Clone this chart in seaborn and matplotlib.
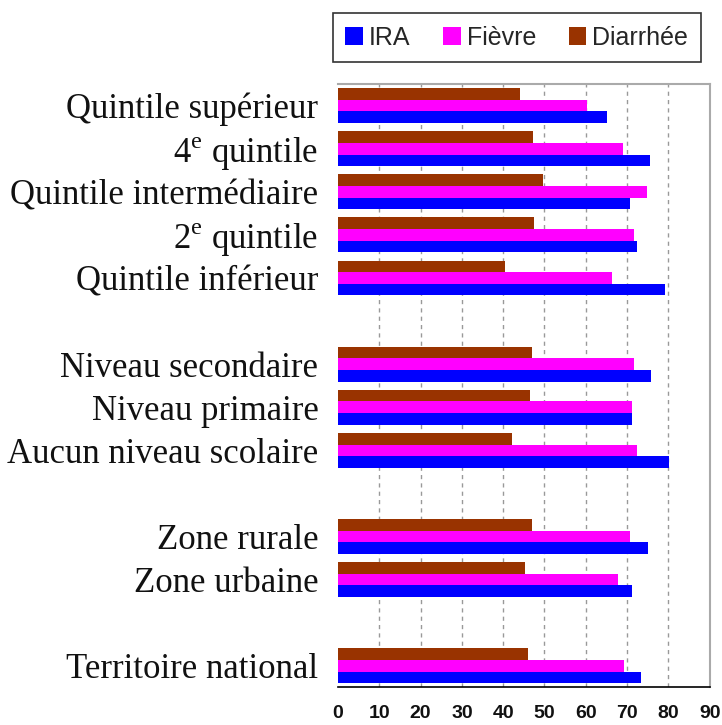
import matplotlib
matplotlib.use("Agg")
import matplotlib.pyplot as plt
import seaborn as sns
import pandas as pd
from matplotlib.patches import Patch

# ---- data ----
categories = ["Quintile supérieur", "4$^{\\mathrm{e}}$ quintile", "Quintile intermédiaire",
              "2$^{\\mathrm{e}}$ quintile", "Quintile inférieur", " ",
              "Niveau secondaire", "Niveau primaire", "Aucun niveau scolaire", "  ",
              "Zone rurale", "Zone urbaine", "   ",
              "Territoire national"]
data_categories = ["Quintile supérieur", "4$^{\\mathrm{e}}$ quintile", "Quintile intermédiaire",
                   "2$^{\\mathrm{e}}$ quintile", "Quintile inférieur",
                   "Niveau secondaire", "Niveau primaire", "Aucun niveau scolaire",
                   "Zone rurale", "Zone urbaine", "Territoire national"]
ira = [65.1, 75.5, 70.8, 72.5, 79.2, 75.8, 71.3, 80.2, 75.1, 71.3, 73.4]
fievre = [60.3, 68.9, 74.8, 71.6, 66.3, 71.6, 71.3, 72.4, 70.7, 67.7, 69.2]
diarrhee = [44.0, 47.3, 49.7, 47.5, 40.5, 47.0, 46.4, 42.2, 47.0, 45.3, 45.9]
series = ["IRA", "Fièvre", "Diarrhée"]
colors = {"IRA": "#0000FF", "Fièvre": "#FF00FF", "Diarrhée": "#993300"}
xticks = [0, 10, 20, 30, 40, 50, 60, 70, 80, 90]

rows = []
for c, a, b, d in zip(data_categories, ira, fievre, diarrhee):
    rows.append((c, "IRA", a))
    rows.append((c, "Fièvre", b))
    rows.append((c, "Diarrhée", d))
df = pd.DataFrame(rows, columns=["cat", "serie", "val"])

sns.set_style("white")
plt.rcParams["mathtext.fontset"] = "custom"
plt.rcParams["mathtext.rm"] = "Liberation Serif"

fig = plt.figure(figsize=(7.22, 7.25), dpi=100)
ax = fig.add_axes([0.468, 0.052, 0.515, 0.832])

sns.barplot(data=df, y="cat", x="val", hue="serie", order=categories,
            hue_order=["Diarrhée", "Fièvre", "IRA"], palette=colors,
            orient="h", width=0.81, gap=0, ax=ax, legend=False,
            saturation=1, edgecolor="none", linewidth=0)

ax.set_xlim(0, 90)
ax.set_ylim(13.5, -0.5)
ax.set_xticks(xticks)
ax.set_xticklabels([str(t) for t in xticks], fontfamily="Liberation Sans",
                   fontsize=14, fontweight="bold", color="#111111")
ax.set_xlabel("")
ax.set_ylabel("")
ax.set_yticks(range(len(categories)))
ax.set_yticklabels(categories, fontfamily="Liberation Serif", fontsize=25, color="#111111")
ax.tick_params(axis="y", length=0, pad=14)
ax.tick_params(axis="x", length=8, width=1.2, direction="inout", color="#333333", pad=9)

for x in xticks[1:-1]:
    ax.axvline(x, color="#999999", linestyle=(0, (3, 3)), linewidth=1, zorder=0)

for s in ["top", "right"]:
    ax.spines[s].set_color("#aaaaaa")
    ax.spines[s].set_linewidth(1.5)
ax.spines["left"].set_visible(False)
ax.spines["bottom"].set_color("black")
ax.spines["bottom"].set_linewidth(1.2)

handles = [Patch(facecolor=colors[s], edgecolor="none", label=s) for s in series]
leg = fig.legend(handles=handles, loc="upper left", bbox_to_anchor=(0.461, 0.982),
                 ncol=3, frameon=True, fancybox=False, edgecolor="black",
                 prop={"family": "Liberation Sans", "size": 18},
                 handlelength=0.7, handleheight=0.7, handletextpad=0.25,
                 columnspacing=1.3, borderpad=0.5, borderaxespad=0)
leg.get_frame().set_linewidth(1.2)

fig.savefig("out.png", dpi=100)
